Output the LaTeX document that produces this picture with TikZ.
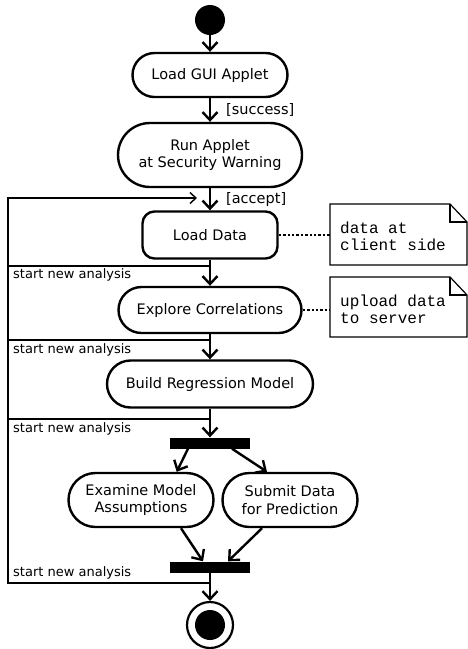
\documentclass[tikz,border=0pt]{standalone}
\usepackage{fontspec}
\setmainfont{DejaVu Sans}
\newfontfamily\notefont{Liberation Mono}
\usetikzlibrary{arrows.meta}
\begin{document}
\begin{tikzpicture}[x=1pt,y=-1pt,
  act/.style={draw,line width=2.4pt,minimum height=#1,inner sep=2pt,align=center,font=\fontsize{14.5}{17.5}\selectfont,rounded corners=#1/2},
  flow/.style={line width=2.4pt,-{Straight Barb[length=8pt,width=15pt,line width=2.4pt]}},
  loopline/.style={line width=1.4pt},
  bar/.style={fill=black,minimum width=80pt,minimum height=11pt,inner sep=0pt},
  lbl/.style={font=\fontsize{13}{15}\selectfont,anchor=west,inner sep=0pt},
  guard/.style={font=\fontsize{14.5}{16}\selectfont,anchor=west,inner sep=0pt},
  note/.style={line width=1.2pt},
  notetext/.style={font=\notefont\fontsize{16}{17}\selectfont,anchor=west,align=left,inner sep=0pt}]
\useasboundingbox (0,0) rectangle (468,649);
% start
\node[circle,fill=black,minimum size=30pt,inner sep=0pt] (start) at (210,20) {};
\node[act=44pt,minimum width=155pt] (gui) at (210,75) {Load GUI Applet};
\node[act=64pt,minimum width=184pt] (run) at (210,155) {Run Applet\\at Security Warning};
\node[draw,line width=2.4pt,rounded corners=12pt,minimum width=135pt,minimum height=47pt,font=\fontsize{14.5}{17.5}\selectfont] (load) at (210,235) {Load Data};
\node[act=46pt,minimum width=183pt] (explore) at (210,310) {Explore Correlations};
\node[act=47pt,minimum width=206pt] (build) at (210,384) {Build Regression Model};
\node[bar] (fork) at (210,443) {};
\node[act=54pt,minimum width=145pt] (exam) at (141,500) {Examine Model\\Assumptions};
\node[act=54pt,minimum width=135pt] (submit) at (290,500) {Submit Data\\for Prediction};
\node[bar] (join) at (210,567) {};
\node[circle,draw,line width=2.2pt,minimum size=46pt,inner sep=0pt] (final) at (210,625) {};
\node[circle,fill=black,minimum size=30pt,inner sep=0pt] (finalin) at (210,625) {};
% main flow
\draw[flow] (start) -- (gui);
\draw[flow] (gui) -- (run);
\draw[flow] (run) -- (load);
\draw[flow] (load) -- (explore);
\draw[flow] (explore) -- (build);
\draw[flow] (build) -- (fork);
\draw[flow] ([xshift=-22pt]fork.south) -- ([xshift=-38pt]exam.north east);
\draw[flow] ([xshift=22pt]fork.south) -- ([xshift=-23pt]submit.north);
\draw[flow] ([xshift=40pt]exam.south) -- ([xshift=-7pt]join.north);
\draw[flow] ([xshift=-28pt]submit.south) -- ([xshift=18pt]join.north);
\draw[flow] (join) -- (final);
% guards
\node[guard] (gs) at (226,110) {[success]};
\node[guard] (ga) at (226,199) {[accept]};
% loop-back
\coordinate (t0) at (8,198);
\coordinate (tarr) at (197,198);
\coordinate (b1) at (210,266);
\coordinate (b2) at (210,340);
\coordinate (b3) at (210,419);
\coordinate (b4) at (210,583);
\draw[loopline,-{Straight Barb[length=6pt,width=11pt,line width=1.4pt]}] (b4) -- (8,583) -- (t0) -- (tarr);
\draw[loopline] (b1) -- (8,266);
\draw[loopline] (b2) -- (8,340);
\draw[loopline] (b3) -- (8,419);
\node[lbl] (l1) at (13,275) {start new analysis};
\node[lbl] (l2) at (13,350) {start new analysis};
\node[lbl] (l3) at (13,429) {start new analysis};
\node[lbl] (l4) at (13,573) {start new analysis};
% notes
\draw[note] (330,204) -- (450,204) -- (467,222) -- (467,265) -- (330,265) -- cycle;
\draw[note] (450,204) -- (450,222) -- (467,222);
\coordinate (n1) at (330,235);
\draw[note] (330,277) -- (450,277) -- (467,295) -- (467,337) -- (330,337) -- cycle;
\draw[note] (450,277) -- (450,295) -- (467,295);
\coordinate (n2) at (330,310);
\node[notetext] (nt1) at (340,236) {data at\\client side};
\node[notetext] (nt2) at (340,309) {upload data\\to server};
\draw[line width=2.4pt,dotted] (load.east) -- (n1);
\draw[line width=2.4pt,dotted] (explore.east) -- (n2);
\end{tikzpicture}
\end{document}
